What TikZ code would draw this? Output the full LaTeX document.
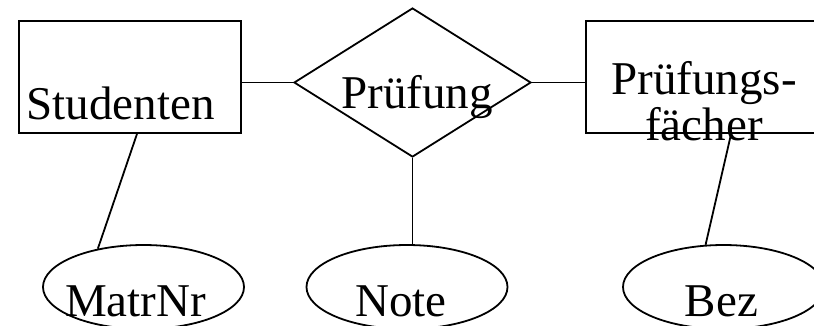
\documentclass[tikz,border=0pt]{standalone}
\usepackage{fontspec}
\setmainfont{Liberation Serif}
\usetikzlibrary{shapes.geometric,calc}
\begin{document}
\begin{tikzpicture}[x=1pt,y=-1pt, line width=1.8pt,
  entity/.style={draw, rectangle, inner sep=0pt, minimum height=112pt},
  relation/.style={draw, diamond, inner sep=0pt, minimum width=237pt, minimum height=149pt},
  attribute/.style={draw, ellipse, inner sep=0pt, minimum width=201pt, minimum height=84pt},
  lbl/.style={font=\fontsize{47}{46}\selectfont, inner sep=0pt, anchor=base}]
\useasboundingbox (0,0) rectangle (814,325);
\clip (0,0) rectangle (814,325);
% entities and relationship
\node[entity, minimum width=222pt] (stud) at (130,77) {};
\node[lbl] (studtext) at (120.5,119) {Studenten};
\node[relation] (pr) at (412.5,82.5) {};
\node[lbl] (prtext) at (417,108) {Prüfung};
\node[entity, minimum width=244pt] (pf) at (708,77) {};
\node[lbl, align=center] (pftext) at (704,140) {Prüfungs-\\fächer};
% attributes
\node[attribute] (matr) at (143.5,287) {};
\node[lbl] (matrtext) at (135.5,316.5) {MatrNr};
\node[attribute] (note) at (407,287) {};
\node[lbl] (notetext) at (401,316.5) {Note};
\node[attribute] (bez) at (723.5,287) {};
\node[lbl] (beztext) at (721.5,316) {Bez};
% connectors
\draw (stud.east |- pr.west) -- (pr.west);
\draw (pr.east) -- (pf.west |- pr.east);
\draw (pr.south) -- (pr.south |- note.north);
\draw ($(stud.south)+(7,0)$) -- (matr.140);
\draw ($(pf.south west)+(146,0)$) -- (bez.113);
\end{tikzpicture}
\end{document}
